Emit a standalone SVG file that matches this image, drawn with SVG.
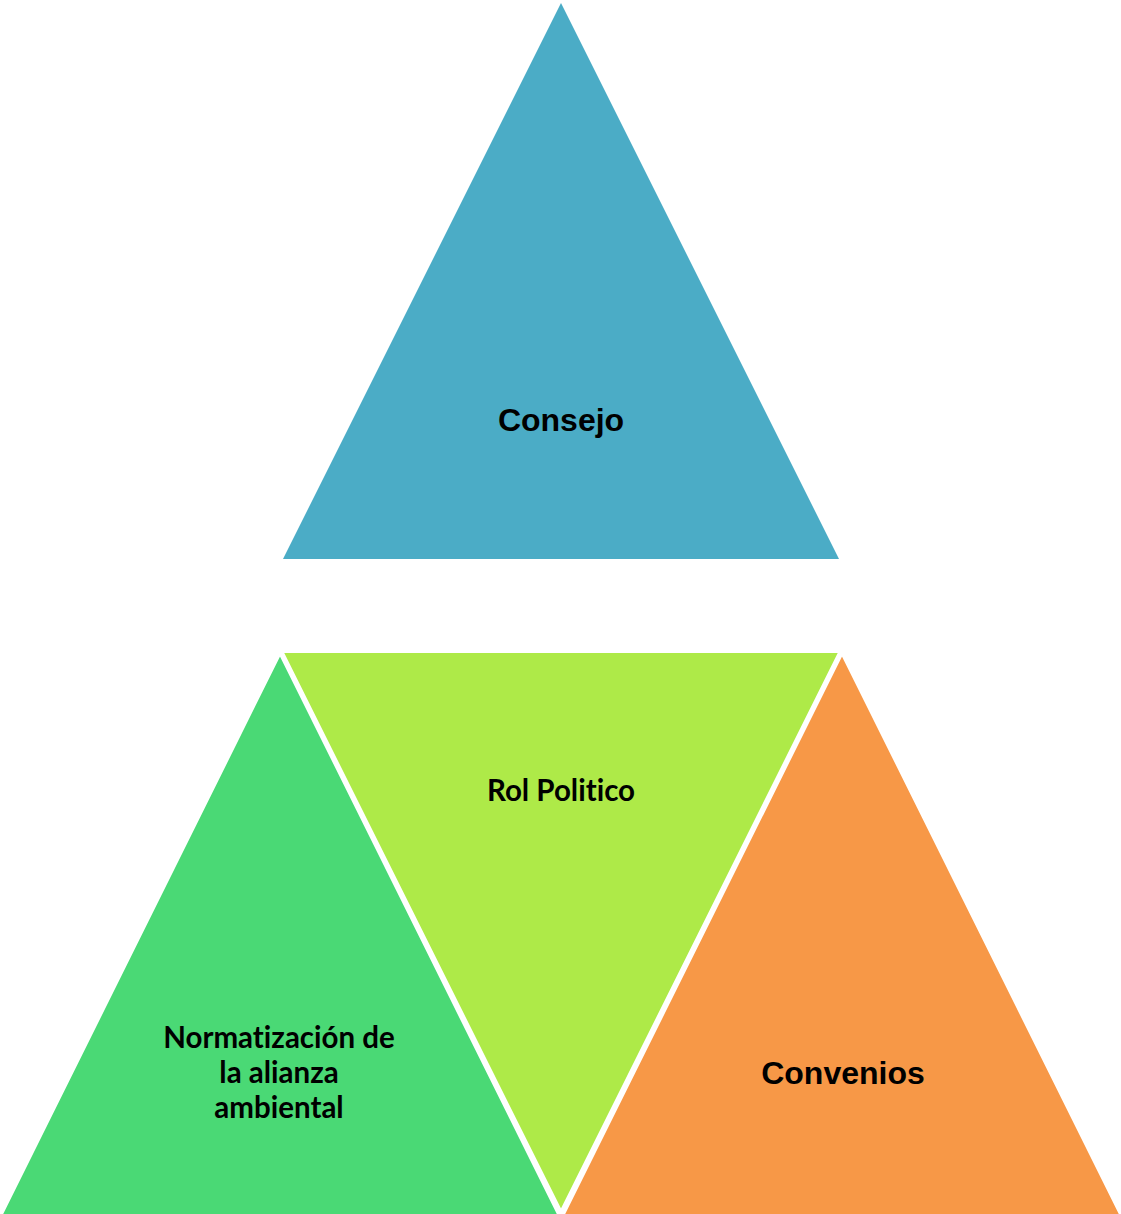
<svg xmlns="http://www.w3.org/2000/svg" width="1121" height="1214" viewBox="0 0 1121 1214">
<style>
.tri{stroke:#ffffff;stroke-width:4;stroke-linejoin:miter}
.a{font-family:"Liberation Sans",Arial,sans-serif;font-weight:bold;font-size:32px;fill:#000;text-anchor:middle}
.c{font-family:Lato,"Open Sans",sans-serif;font-weight:bold;font-size:29.5px;fill:#000;text-anchor:middle;font-variant-ligatures:none;font-feature-settings:"liga" 0}
</style>
<rect width="1121" height="1214" fill="#ffffff"/>
<g id="consejo">
<polygon points="561,3 283,559 839,559" fill="#4BACC6"/>
<text class="a" x="561" y="431">Consejo</text>
</g>
<g id="normatizacion">
<polygon class="tri" points="280,652 0,1216 560,1216" fill="#4AD975"/>
<text class="c" x="279" y="1048">Normatización de</text>
<text class="c" x="279" y="1083">la alianza</text>
<text class="c" x="279" y="1118">ambiental</text>
</g>
<g id="convenios">
<polygon class="tri" points="842,652 562,1216 1122,1216" fill="#F79847"/>
<text class="a" x="843" y="1084">Convenios</text>
</g>
<g id="rol">
<polygon class="tri" points="281,651 841,651 561,1213" fill="#AEEA48"/>
<text class="c" x="561" y="801">Rol Politico</text>
</g>
<g id="connectors"></g>
</svg>
